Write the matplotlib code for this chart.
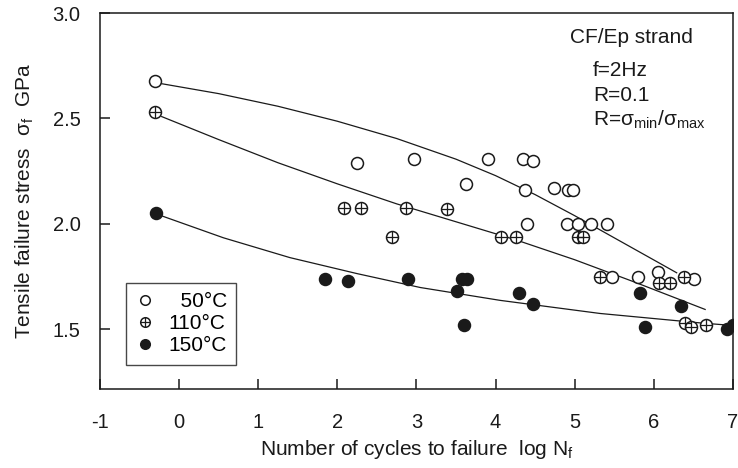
import matplotlib
matplotlib.use("Agg")
import matplotlib.pyplot as plt
from matplotlib.legend_handler import HandlerTuple

plt.rcParams['font.family'] = ['Liberation Sans', 'DejaVu Sans']
plt.rcParams['mathtext.fontset'] = 'custom'
plt.rcParams['mathtext.rm'] = 'Liberation Sans'
plt.rcParams['mathtext.it'] = 'Liberation Sans'
plt.rcParams['axes.unicode_minus'] = False

# 50 C (open circles)
x50 = [-0.30, 2.25, 2.97, 3.90, 4.35, 4.47, 3.63, 4.37, 4.74, 4.92, 4.98,
       4.40, 4.90, 5.04, 5.21, 5.41, 5.47, 5.80, 6.06, 6.51]
y50 = [2.68, 2.29, 2.31, 2.31, 2.31, 2.30, 2.19, 2.16, 2.17, 2.16, 2.16,
       2.00, 2.00, 2.00, 2.00, 2.00, 1.75, 1.75, 1.77, 1.74]
# 110 C (circle with plus)
x110 = [-0.30, 2.08, 2.30, 2.87, 2.69, 3.39, 4.07, 4.26, 5.04, 5.11, 5.32,
        6.07, 6.21, 6.38, 6.39, 6.47, 6.66]
y110 = [2.53, 2.075, 2.075, 2.075, 1.94, 2.07, 1.94, 1.94, 1.94, 1.94, 1.75,
        1.72, 1.72, 1.75, 1.53, 1.51, 1.52]
# 150 C (filled circles)
x150 = [-0.29, 1.84, 2.14, 2.89, 3.51, 3.58, 3.64, 3.60, 4.30, 4.48, 5.83,
        5.89, 6.34, 6.92, 7.00]
y150 = [2.05, 1.74, 1.73, 1.74, 1.68, 1.74, 1.74, 1.52, 1.67, 1.62, 1.67,
        1.51, 1.61, 1.50, 1.52]

# fitted curves
cx50 = [-0.22, 0.5, 1.25, 2.0, 2.75, 3.5, 4.0, 4.5, 5.0, 5.5, 6.0, 6.29]
cy50 = [2.665, 2.618, 2.558, 2.487, 2.405, 2.307, 2.229, 2.139, 2.039, 1.934, 1.829, 1.768]
cx110 = [-0.22, 0.5, 1.25, 2.0, 2.75, 3.5, 4.25, 5.0, 5.75, 6.65]
cy110 = [2.509, 2.40, 2.29, 2.19, 2.095, 2.01, 1.925, 1.83, 1.725, 1.594]
cx150 = [-0.22, 0.56, 1.40, 2.25, 3.05, 4.06, 5.32, 6.59, 6.96]
cy150 = [2.038, 1.934, 1.840, 1.764, 1.698, 1.637, 1.575, 1.530, 1.519]

ink = '#1a1a1a'
ms = 8.6

fig = plt.figure(figsize=(7.38, 4.68), dpi=100)
ax = fig.add_axes([0.1355, 0.169, 0.8575, 0.803])

ax.plot(cx50, cy50, color=ink, lw=0.9)
ax.plot(cx110, cy110, color=ink, lw=0.9)
ax.plot(cx150, cy150, color=ink, lw=0.9)

h50, = ax.plot(x50, y50, 'o', ms=ms, mfc='white', mec=ink, mew=1.1, ls='none')
h110a, = ax.plot(x110, y110, 'o', ms=ms, mfc='white', mec=ink, mew=1.1, ls='none')
h110b, = ax.plot(x110, y110, '+', ms=ms, mec=ink, mew=0.9, ls='none')
h150, = ax.plot(x150, y150, 'o', ms=ms, mfc=ink, mec=ink, mew=1.1, ls='none')

ax.set_xlim(-1, 7)
ax.set_ylim(1.217, 3.0)
ax.set_xticks(range(-1, 8))
ax.set_yticks([1.5, 2.0, 2.5, 3.0])
ax.set_yticklabels(['1.5', '2.0', '2.5', '3.0'])
ax.tick_params(direction='in', length=7, width=1.1, color=ink, labelsize=14.5, labelcolor=ink)
ax.tick_params(axis='x', pad=17)
ax.tick_params(axis='y', pad=14)
for s in ax.spines.values():
    s.set_color(ink)
    s.set_linewidth(1.1)

ax.set_xlabel('Number of cycles to failure  log N$_{\\rm f}$', fontsize=15, color=ink, labelpad=5)
ax.set_ylabel('Tensile failure stress  σ$_{\\rm f}$  GPa', fontsize=15, color=ink, labelpad=12)

ax.text(0.742, 0.936, 'CF/Ep strand', transform=ax.transAxes, fontsize=15, color=ink, va='center')
ax.text(0.779, 0.848, 'f=2Hz', transform=ax.transAxes, fontsize=15, color=ink, va='center')
ax.text(0.779, 0.782, 'R=0.1', transform=ax.transAxes, fontsize=15, color=ink, va='center')
ax.text(0.779, 0.715, 'R=σ$_{\\rm min}$/σ$_{\\rm max}$', transform=ax.transAxes,
        fontsize=15, color=ink, va='center')

leg = ax.legend([h50, (h110a, h110b), h150], ['  50°C', '110°C', '150°C'],
                handler_map={tuple: HandlerTuple(ndivide=1, pad=0)},
                loc='lower left', bbox_to_anchor=(0.041, 0.064), borderaxespad=0,
                fancybox=False, edgecolor=ink, fontsize=15, handlelength=0.9,
                handletextpad=0.7, labelspacing=0.15, borderpad=0.45, markerscale=0.8)
leg.get_frame().set_linewidth(1.0)

fig.savefig('out.png', dpi=100)
